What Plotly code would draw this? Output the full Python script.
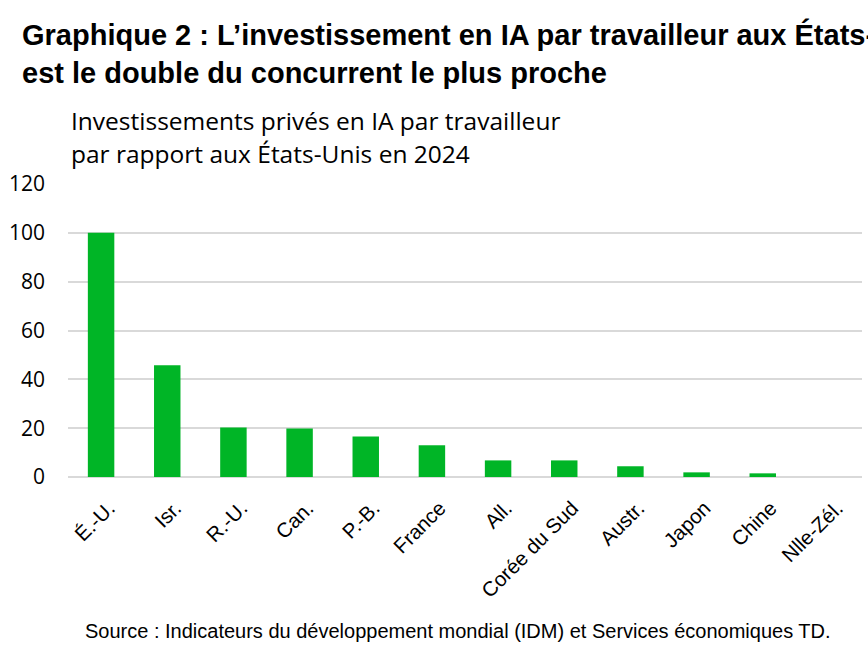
import plotly.graph_objects as go

categories = ["É.-U.", "Isr.", "R.-U.", "Can.", "P.-B.", "France", "All.", "Corée du Sud",
              "Austr.", "Japon", "Chine", "Nlle-Zél."]
values = [100, 45.8, 20.3, 19.9, 16.6, 13.0, 6.8, 6.8, 4.4, 1.9, 1.5, 0]
y_ticks = [0, 20, 40, 60, 80, 100, 120]

title_text = "Graphique 2 : L’investissement en IA par travailleur aux États-Unis<br>est le double du concurrent le plus proche"
subtitle_lines = ["Investissements privés en IA par travailleur", "par rapport aux États-Unis en 2024"]
source_text = "Source : Indicateurs du développement mondial (IDM) et Services économiques TD."

SANS = "Liberation Sans"
SUB = "Open Sans"
GREEN = "#00B526"
W, H = 868, 648
L, R, T, B = 68, 6, 184, 171
PW, PH = W - L - R, H - T - B

fig = go.Figure(go.Bar(x=categories, y=values, marker_color=GREEN, marker_line_width=0))

def px_x(x):
    return (x - L) / PW

def px_y(y):
    return (H - B - y) / PH

anns = []
for i, line in enumerate(subtitle_lines):
    anns.append(dict(text=line, xref="paper", yref="paper", x=px_x(69), y=px_y(120 + 33 * i),
                     xanchor="left", yanchor="middle", align="left", showarrow=False,
                     font=dict(size=24.5, family=SUB, color="#000")))
anns.append(dict(text=source_text, xref="paper", yref="paper", x=px_x(458), y=px_y(631),
                 xanchor="center", yanchor="middle", showarrow=False,
                 font=dict(size=20, family=SANS, color="#000")))

fig.update_layout(
    width=W, height=H,
    margin=dict(l=L, r=R, t=T, b=B),
    paper_bgcolor="white", plot_bgcolor="white",
    bargap=0.6,
    showlegend=False,
    font=dict(family=SANS, color="#000000"),
    title=dict(text="<b>" + title_text + "</b>", x=22 / W, xref="container", xanchor="left",
               y=1 - 45 / H, yref="container", yanchor="top",
               font=dict(size=29, family=SANS, color="#000")),
    xaxis=dict(
        tickangle=-45, tickfont=dict(size=20.5, family=SANS, color="#000"),
        showgrid=False, showline=False, ticks="outside", ticklen=10, tickcolor="rgba(0,0,0,0)",
        ticklabelshift=8,
    ),
    yaxis=dict(
        range=[0, 120], tickvals=y_ticks, tickfont=dict(size=21, family=SUB, color="#000"),
        showgrid=True, gridcolor="#D9D9D9", gridwidth=2,
        zeroline=True, zerolinecolor="#D9D9D9", zerolinewidth=2,
        showline=False, ticks="", ticklabelstandoff=22,
    ),
    annotations=anns,
)

fig.write_html("out.html")
